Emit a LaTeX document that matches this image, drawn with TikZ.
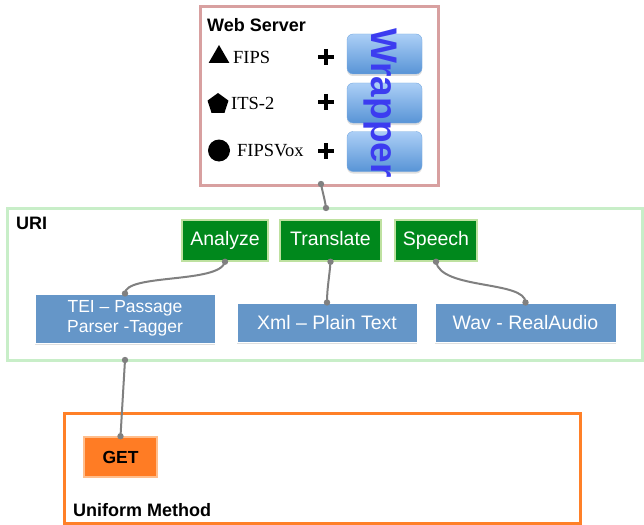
\documentclass[tikz,border=0pt]{standalone}
\usepackage{fontspec}
\setmainfont{Liberation Serif}
\setsansfont{Liberation Sans}
\usetikzlibrary{shadows,shapes.geometric}
\definecolor{wsborder}{RGB}{216,160,160}
\definecolor{uriborder}{RGB}{200,238,200}
\definecolor{gfill}{RGB}{0,136,28}
\definecolor{gborder}{RGB}{190,225,160}
\definecolor{bfill}{RGB}{101,150,200}
\definecolor{ofill}{RGB}{255,124,36}
\definecolor{oborder}{RGB}{255,128,40}
\definecolor{olight}{RGB}{255,190,140}
\definecolor{wraptxt}{RGB}{60,60,240}
\definecolor{wtop}{RGB}{172,207,246}
\definecolor{wbot}{RGB}{88,148,214}
\definecolor{wline}{RGB}{120,170,225}
\definecolor{conn}{RGB}{128,128,128}
\tikzset{
  frame/.style={draw, fill=white, line width=3pt, minimum width=#1, inner sep=0pt, outer sep=0pt},
  shad/.style={drop shadow={opacity=0.25, shadow xshift=0pt, shadow yshift=-2pt}},
  title/.style={font=\sffamily\bfseries\fontsize{18}{21}\selectfont, anchor=west, inner sep=0pt},
  gbox/.style={fill=gfill, draw=gborder, line width=1.5pt, text=white, minimum height=41pt,
    inner sep=0pt, text height=14pt, text depth=4pt, font=\sffamily\fontsize{19.5}{22}\selectfont},
  bbox/.style={fill=bfill, draw=white, line width=1pt, text=white, inner sep=0pt, shad,
    font=\sffamily\fontsize{19.5}{22}\selectfont, align=center},
  wbox/.style={rounded corners=6pt, top color=wtop, bottom color=wbot, draw=wline,
    minimum width=75pt, minimum height=40pt, inner sep=0pt, shad},
  item/.style={font=\fontsize{18.5}{21}\selectfont, anchor=west, inner sep=0pt},
  plus/.style={line width=4.5pt},
  conn/.style={draw=conn, line width=2pt},
  dot/.style={fill=conn},
}
\begin{document}
\begin{tikzpicture}[x=1pt,y=-1pt]
\useasboundingbox (0,0) rectangle (644,524);
% frames
\node[frame=238pt, minimum height=178pt, draw=wsborder, shad] (ws) at (319,96) {};
\node[frame=635pt, minimum height=152pt, draw=uriborder, shad] (uri) at (324.5,284) {};
\node[frame=516pt, minimum height=110pt, draw=oborder] (um) at (322,468) {};
% titles
\node[title] (wstitle) at (207,25) {Web Server};
\node[title] (urititle) at (16,223) {URI};
\node[title] (umtitle) at (73,510) {Uniform Method};
% web server content
\node[isosceles triangle, isosceles triangle apex angle=60, shape border rotate=90, fill=black,
  minimum height=18pt, inner sep=0pt] (tri) at (219,57) {};
\node[regular polygon, regular polygon sides=5, fill=black, minimum size=22pt, inner sep=0pt] (pent) at (218,104) {};
\node[circle, fill=black, minimum size=22pt, inner sep=0pt] (circ) at (219,150.5) {};
\node[item] (fips) at (233,57) {FIPS};
\node[item] (its) at (231,103) {ITS-2};
\node[item] (fipsvox) at (237,151) {FIPSVox};
\draw[plus] (326,57) +(-8,0) -- +(8,0) +(0,-8) -- +(0,8);
\draw[plus] (326,102) +(-8,0) -- +(8,0) +(0,-8) -- +(0,8);
\draw[plus] (326,151) +(-8,0) -- +(8,0) +(0,-8) -- +(0,8);
\node[wbox] (w1) at (384.5,54) {};
\node[wbox] (w2) at (384.5,103) {};
\node[wbox] (w3) at (384.5,151.5) {};
\node[rotate=-90, text=wraptxt, font=\sffamily\bfseries\fontsize{37}{40}\selectfont, inner sep=0pt] (wrap) at (380,103) {Wrapper};
% URI content
\node[gbox, minimum width=86pt] (analyze) at (225,240.5) {Analyze};
\node[gbox, minimum width=101pt] (translate) at (330.5,240.5) {Translate};
\node[gbox, minimum width=82pt] (speech) at (436,240.5) {Speech};
\node[bbox, minimum width=180pt, minimum height=49pt, font=\sffamily\fontsize{17.5}{20}\selectfont] (tei) at (125,318.5) {TEI -- Passage\\Parser -Tagger};
\node[bbox, minimum width=180pt, minimum height=39pt] (xml) at (327,322.5) {Xml -- Plain Text};
\node[bbox, minimum width=181pt, minimum height=39pt] (wav) at (525.5,322.5) {Wav - RealAudio};
% GET
\node[fill=ofill, draw=olight, line width=1.5pt, minimum width=73pt, minimum height=40pt, inner sep=0pt,
  font=\sffamily\bfseries\fontsize{17.5}{20}\selectfont] (get) at (120.5,457) {GET};
% connectors
\coordinate (wsout) at (321,184);
\coordinate (uriin) at (326,208);
\coordinate (uriout) at (uri.south -| tei);
\draw[conn] (wsout) .. controls +(2,10) and +(-1,-8) .. (uriin);
\draw[conn] (analyze.south) .. controls +(-5,22) and +(0,-20) .. (tei.north);
\draw[conn] (translate.south) .. controls +(-1,15) and +(0,-15) .. (xml.north);
\draw[conn] (speech.south) .. controls +(5,28) and +(0,-22) .. (wav.north);
\draw[conn] (uriout) -- (get.north);
\foreach \p in {wsout,uriin,analyze.south,tei.north,translate.south,xml.north,speech.south,wav.north,uriout,get.north}
  \fill[dot] (\p) circle (3.2pt);
\end{tikzpicture}
\end{document}
